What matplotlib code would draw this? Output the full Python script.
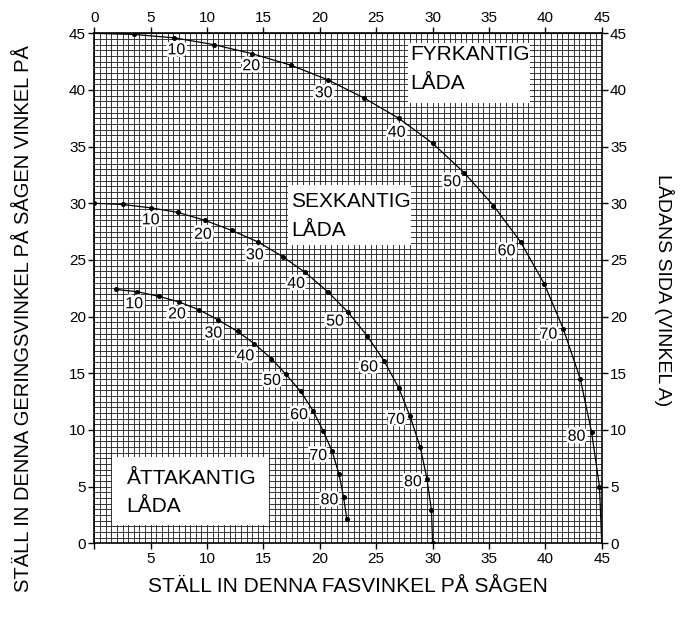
import numpy as np
import matplotlib
matplotlib.use("Agg")
import matplotlib.pyplot as plt
import matplotlib.patheffects as pe
from matplotlib.patches import Rectangle

plt.rcParams['font.family'] = ['Liberation Sans', 'DejaVu Sans']

# box side angle (vinkel A), degrees
side_0_90 = [0, 5, 10, 15, 20, 25, 30, 35, 40, 45, 50, 55, 60, 65, 70, 75, 80, 85, 90]
side_5_85 = side_0_90[1:-1]

# fyrkantig låda (4 sides)
sq_bevel = [0, 3.5, 7.1, 10.6, 14.0, 17.4, 20.7, 23.9, 27.0, 30.0, 32.8, 35.4, 37.8, 39.9, 41.6, 43.1, 44.1, 44.8, 45.0]
sq_miter = [45.0, 44.9, 44.6, 44.0, 43.2, 42.2, 40.9, 39.3, 37.5, 35.3, 32.7, 29.8, 26.6, 22.9, 18.9, 14.5, 9.8, 5.0, 0]

# sexkantig låda (6 sides)
hex_bevel = [0, 2.5, 5.0, 7.4, 9.8, 12.2, 14.5, 16.7, 18.7, 20.7, 22.5, 24.2, 25.7, 27.0, 28.0, 28.9, 29.5, 29.9, 30.0]
hex_miter = [30.0, 29.9, 29.6, 29.2, 28.5, 27.6, 26.6, 25.3, 23.9, 22.2, 20.4, 18.3, 16.1, 13.7, 11.2, 8.5, 5.7, 2.9, 0]

# åttakantig låda (8 sides)
oct_bevel = [1.9, 3.8, 5.7, 7.5, 9.3, 11.0, 12.7, 14.2, 15.7, 17.0, 18.3, 19.4, 20.3, 21.1, 21.7, 22.1, 22.4]
oct_miter = [22.4, 22.2, 21.8, 21.3, 20.6, 19.7, 18.7, 17.6, 16.3, 14.9, 13.4, 11.7, 9.9, 8.1, 6.1, 4.1, 2.1]

label_angles = [10, 20, 30, 40, 50, 60, 70, 80]

# label offsets in pixels (dx, dy) from the point
sq_offsets = [(2, -12), (-1, -12), (-4, -13), (-2, -14), (-12, -9), (-14, -9), (-15, -5), (-15, -4)]
hex_offsets = [(0, -12), (-2, -14), (-3, -13), (-9, -11), (-13, -9), (-15, -6), (-14, -3), (-14, -3)]
oct_offsets = [(-3, -12), (-2, -12), (-5, -13), (-9, -12), (-14, -6), (-14, -4), (-14, -4), (-14, -3)]

fig = plt.figure(figsize=(6.8, 6.19), dpi=100)
ax = fig.add_axes([0.1387, 0.1223, 0.7462, 0.8239])

ax.set_xlim(0, 45)
ax.set_ylim(0, 45)

# fine grid every half degree
ax.set_xticks(np.arange(0, 45.01, 0.5), minor=True)
ax.set_yticks(np.arange(0, 45.01, 0.5), minor=True)
ax.grid(which='both', color='#2a2a2a', linewidth=0.65, zorder=0)
ax.set_axisbelow(True)

major = np.arange(0, 46, 5)
ax.set_xticks(major)
ax.set_yticks(major)
ax.set_xticklabels([''] + [str(v) for v in major[1:]])
ax.tick_params(which='minor', length=0)
ax.tick_params(which='major', direction='out', length=4, width=1, labelsize=11,
               right=True, labelright=True, pad=2)
for s in ax.spines.values():
    s.set_linewidth(1.2)

top = ax.secondary_xaxis('top')
top.set_xticks(major)
top.set_xticklabels([str(v) for v in major])
top.tick_params(direction='out', length=4, width=1, labelsize=11, pad=2)

# text boxes
boxes = [
    ((0.618, 0.863), 0.240, 0.118, 0.6236, [0.9575, 0.9025], ["FYRKANTIG", "LÅDA"]),
    ((0.3824, 0.585), 0.242, 0.118, 0.3877, [0.6698, 0.6143], ["SEXKANTIG", "LÅDA"]),
    ((0.0343, 0.0359), 0.309, 0.133, 0.0638, [0.128, 0.0718], ["ÅTTAKANTIG", "LÅDA"]),
]
for (x0, y0), w, h, tx, tys, lines in boxes:
    ax.add_patch(Rectangle((x0, y0), w, h, transform=ax.transAxes,
                           facecolor='white', edgecolor='none', zorder=2))
    for ty, line in zip(tys, lines):
        ax.text(tx, ty, line, transform=ax.transAxes, ha='left', va='center',
                fontsize=15, zorder=3)

halo = [pe.withStroke(linewidth=4, foreground='white')]

def draw_curve(sides, bevel, miter, offsets, markevery=None):
    ax.plot(bevel, miter, color='black', linewidth=0.9, zorder=4)
    ax.plot(bevel, miter, linestyle='none', marker='o', markersize=2.6,
            color='black', markevery=markevery, zorder=5)
    for a, (dx, dy) in zip(label_angles, offsets):
        i = sides.index(a)
        ax.annotate(str(a), (bevel[i], miter[i]), xytext=(dx, dy),
                    textcoords='offset pixels', ha='center', va='center',
                    fontsize=11.5, path_effects=halo, zorder=6)

draw_curve(side_0_90, sq_bevel, sq_miter, sq_offsets, markevery=slice(1, -1))
draw_curve(side_0_90, hex_bevel, hex_miter, hex_offsets)
draw_curve(side_5_85, oct_bevel, oct_miter, oct_offsets)

fig.text(348 / 680, 1 - 587 / 619, "STÄLL IN DENNA FASVINKEL PÅ SÅGEN",
         ha='center', va='center', fontsize=15)
fig.text(24 / 680, 1 - 319 / 619, "STÄLL IN DENNA GERINGSVINKEL PÅ SÅGEN VINKEL PÅ",
         ha='center', va='center', rotation=90, fontsize=14.5)
fig.text(664 / 680, 1 - 290 / 619, "LÅDANS SIDA (VINKEL A)",
         ha='center', va='center', rotation=270, fontsize=14)

fig.savefig("out.png", dpi=100)
